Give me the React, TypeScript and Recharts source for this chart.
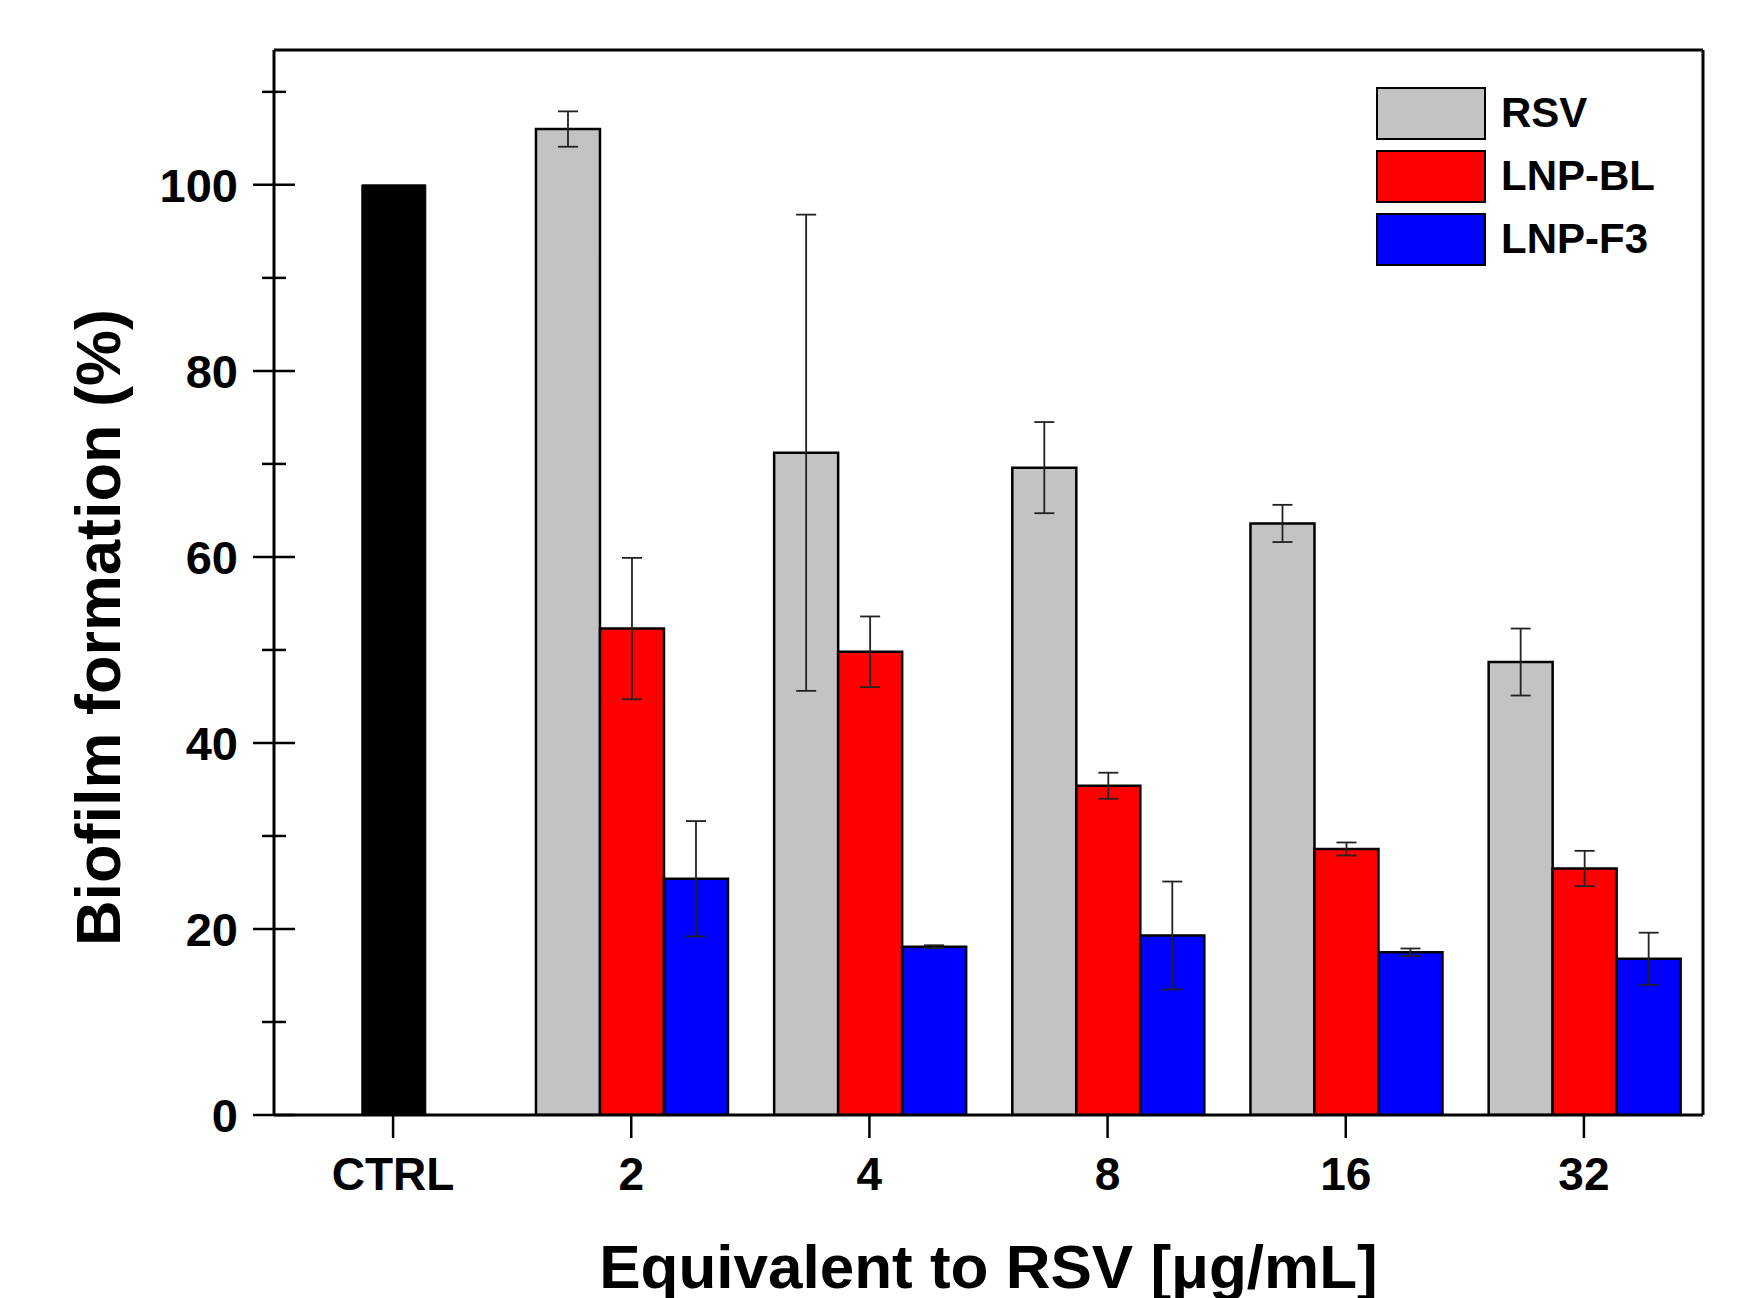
import React from "react";
import { BarChart, Bar, XAxis, YAxis, ErrorBar, Legend, Label, CartesianGrid } from "recharts";

const categories = ["CTRL", "2", "4", "8", "16", "32"];
const ctrlValues = [100, null, null, null, null, null];
const rsvValues = [null, 106.0, 71.2, 69.6, 63.6, 48.7];
const rsvErrors = [null, 1.9, 25.6, 4.9, 2.0, 3.6];
const lnpBlValues = [null, 52.3, 49.8, 35.4, 28.6, 26.5];
const lnpBlErrors = [null, 7.6, 3.8, 1.4, 0.7, 1.9];
const lnpF3Values = [null, 25.4, 18.1, 19.3, 17.5, 16.8];
const lnpF3Errors = [null, 6.2, 0.15, 5.8, 0.4, 2.8];
const yTicks = [0, 10, 20, 30, 40, 50, 60, 70, 80, 90, 100, 110];

const series = [
  { name: "RSV", color: "#c3c3c3" },
  { name: "LNP-BL", color: "#ff0000" },
  { name: "LNP-F3", color: "#0000ff" },
];

const data = categories.map((c, i) => ({
  cat: c,
  ctrl: ctrlValues[i],
  rsv: rsvValues[i],
  rsvErr: rsvErrors[i],
  lnpBl: lnpBlValues[i],
  lnpBlErr: lnpBlErrors[i],
  lnpF3: lnpF3Values[i],
  lnpF3Err: lnpF3Errors[i],
}));

const FONT = "'Liberation Sans', Arial, sans-serif";
const frameLine = { stroke: "#000", strokeWidth: 3 };

const YTick = (props: any) => {
  const { x, y, payload } = props;
  const v = payload.value;
  const major = v % 20 === 0;
  const len = major ? 21 : 12;
  return (
    <g>
      <line x1={x - len} x2={x + len} y1={y} y2={y} stroke="#000" strokeWidth={2.5} />
      {major && (
        <text x={x - 36} y={y} dy="0.36em" textAnchor="end" fontFamily={FONT} fontWeight="bold" fontSize={47} fill="#000">
          {v}
        </text>
      )}
    </g>
  );
};

const LegendBox = () => (
  <div style={{ fontFamily: FONT, fontWeight: "bold", fontSize: 42, color: "#000" }}>
    {series.map((s) => (
      <div key={s.name} style={{ display: "flex", alignItems: "center", height: 54, marginBottom: 9 }}>
        <div style={{ width: 106, height: 49, background: s.color, border: "2.5px solid #000", marginRight: 15 }} />
        <span>{s.name}</span>
      </div>
    ))}
  </div>
);

export default function App() {
  return (
    <div style={{ position: "absolute", left: 0, top: 0, background: "#fff" }}>
      <BarChart
        width={1739}
        height={1298}
        data={data}
        margin={{ top: 50, right: 36, left: 154, bottom: 83 }}
        barCategoryGap="10%"
        barGap={0}
      >
        {/* top and right frame lines */}
        <CartesianGrid
          stroke="#000"
          strokeWidth={3}
          horizontalCoordinatesGenerator={({ offset }: any) => [offset.top]}
          verticalCoordinatesGenerator={({ offset }: any) => [offset.left + offset.width]}
        />
        <XAxis
          dataKey="cat"
          height={100}
          axisLine={frameLine}
          tickLine={{ stroke: "#000", strokeWidth: 2.5 }}
          tickSize={23}
          tickMargin={19}
          tick={{ fontFamily: FONT, fontWeight: "bold", fontSize: 46, fill: "#000" }}
        >
          <Label
            content={(p: any) => {
              const vb = p.viewBox;
              return (
                <text x={vb.x + vb.width / 2} y={vb.y + 173} textAnchor="middle" fontFamily={FONT} fontWeight="bold" fontSize={62} fill="#000">
                  Equivalent to RSV [μg/mL]
                </text>
              );
            }}
          />
        </XAxis>
        <YAxis
          width={120}
          domain={[0, 114.5]}
          ticks={yTicks}
          interval={0}
          allowDataOverflow
          axisLine={frameLine}
          tickLine={false}
          tickSize={0}
          tickMargin={0}
          tick={<YTick />}
        >
          <Label
            content={(p: any) => {
              const vb = p.viewBox;
              const cx = vb.x - 34;
              const cy = vb.y + vb.height / 2 + 45;
              return (
                <text x={cx} y={cy} transform={`rotate(-90, ${cx}, ${cy})`} textAnchor="middle" fontFamily={FONT} fontWeight="bold" fontSize={63} fill="#000">
                  Biofilm formation (%)
                </text>
              );
            }}
          />
        </YAxis>
        <Bar dataKey="rsv" name="RSV" stackId="a" fill={series[0].color} stroke="#000" strokeWidth={2.5} isAnimationActive={false}>
          <ErrorBar dataKey="rsvErr" width={10} stroke="#222" strokeWidth={1.8} />
        </Bar>
        <Bar dataKey="ctrl" name="CTRL" stackId="b" fill="#000" stroke="#000" strokeWidth={1} isAnimationActive={false} />
        <Bar dataKey="lnpBl" name="LNP-BL" stackId="b" fill={series[1].color} stroke="#000" strokeWidth={2.5} isAnimationActive={false}>
          <ErrorBar dataKey="lnpBlErr" width={10} stroke="#222" strokeWidth={1.8} />
        </Bar>
        <Bar dataKey="lnpF3" name="LNP-F3" stackId="c" fill={series[2].color} stroke="#000" strokeWidth={2.5} isAnimationActive={false}>
          <ErrorBar dataKey="lnpF3Err" width={10} stroke="#222" strokeWidth={1.8} />
        </Bar>
        <Legend
          layout="vertical"
          align="center"
          verticalAlign="middle"
          content={<LegendBox />}
          wrapperStyle={{ top: 86, left: 1376, width: 360, height: 200 }}
        />
      </BarChart>
    </div>
  );
}
